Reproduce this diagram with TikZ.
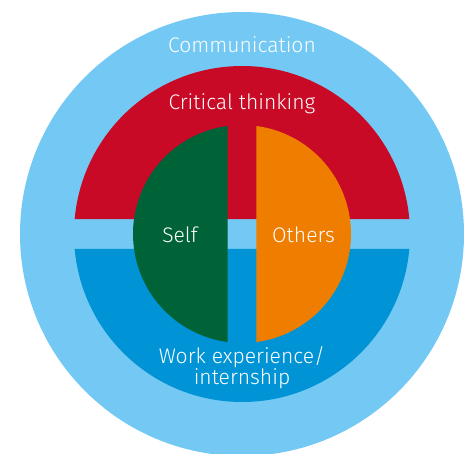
\documentclass[tikz,border=0pt]{standalone}
\usepackage{fontspec}
\setmainfont{Fira Sans}[UprightFont=* Light]
\definecolor{skyblue}{RGB}{115,201,243}
\definecolor{critred}{RGB}{200,10,38}
\definecolor{workblue}{RGB}{0,148,214}
\definecolor{selfgreen}{RGB}{0,99,55}
\definecolor{othorange}{RGB}{239,125,0}
\tikzset{
  label/.style={text=white, font=\fontsize{12}{12}\selectfont, align=center, inner sep=0pt}
}
\begin{document}
\begin{tikzpicture}
			\useasboundingbox (-4.84,-4.38) rectangle (4.60,4.68);
			\clip (-4.84,-4.38) rectangle (4.60,4.68);
			\coordinate(O) at (0,0);
			\fill[skyblue] (O) circle(4.44);
			% upper and lower half rings
			\fill[critred] (5.1:3.36) arc(5.1:174.9:3.36) -- cycle;
			\fill[workblue] (-5.1:3.36) arc(-5.1:-174.9:3.36) -- cycle;
			% inner halves
			\fill[selfgreen] (97.6:2.18) arc(97.6:262.4:2.18) -- cycle;
			\fill[othorange] (82.4:2.18) arc(82.4:-82.4:2.18) -- cycle;
			\node[label] (comm) at (0,3.78) {Communication};
			\node[label] (crit) at (0,2.60) {Critical thinking};
			\node[label] (self) at (-1.24,-0.02) {Self};
			\node[label] (others) at (1.23,-0.02) {Others};
			\node[label] (work) at (0,-2.68) {Work experience/\\internship};
\end{tikzpicture}
\end{document}
